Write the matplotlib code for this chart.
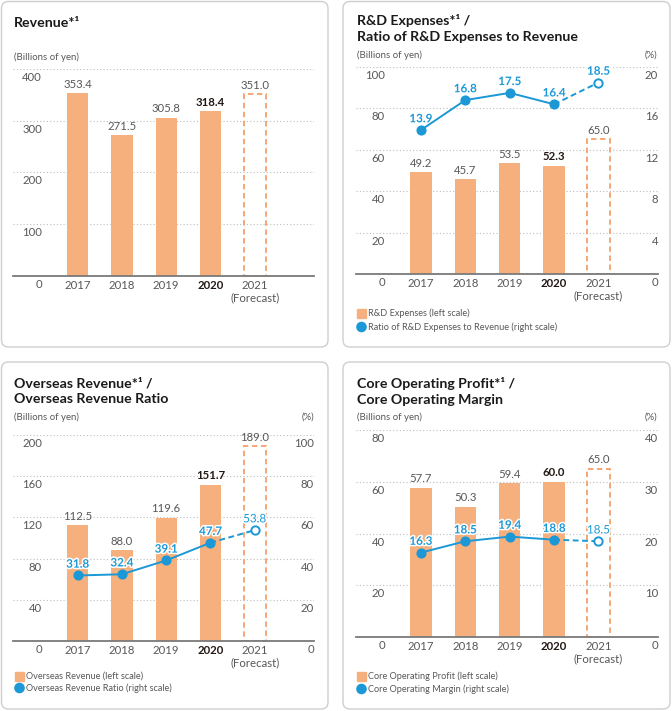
import matplotlib
matplotlib.use('Agg')
import numpy as np
import matplotlib.pyplot as plt
from matplotlib.transforms import Affine2D
from matplotlib.patches import FancyBboxPatch, Rectangle, Circle
import matplotlib.patheffects as pe

plt.rcParams['font.family'] = ['Lato', 'DejaVu Sans']

# ---------------- data ----------------
years = ['2017', '2018', '2019', '2020', '2021\n(Forecast)']
revenue = [353.4, 271.5, 305.8, 318.4, 351.0]
rd_expenses = [49.2, 45.7, 53.5, 52.3, 65.0]
rd_ratio = [13.9, 16.8, 17.5, 16.4, 18.5]
overseas_revenue = [112.5, 88.0, 119.6, 151.7, 189.0]
overseas_ratio = [31.8, 32.4, 39.1, 47.7, 53.8]
core_profit = [57.7, 50.3, 59.4, 60.0, 65.0]
core_margin = [16.3, 18.5, 19.4, 18.8, 18.5]

rev_ticks = [0, 100, 200, 300, 400]
rd_ticks = [0, 20, 40, 60, 80, 100]
rd_ratio_ticks = [0, 4, 8, 12, 16, 20]
ov_ticks = [0, 40, 80, 120, 160, 200]
ov_ratio_ticks = [0, 20, 40, 60, 80, 100]
core_ticks = [0, 20, 40, 60, 80]
core_margin_ticks = [0, 10, 20, 30, 40]

# ---------------- style ----------------
BAR = '#F6B07E'
FC_EDGE = '#F4A06A'
BLUE = '#1B98D5'
TXT = '#595757'
DARK = '#231815'
GRID = '#BDBDBD'
W, H = 672, 711

fig = plt.figure(figsize=(W / 100, H / 100), dpi=100)
PX = Affine2D().scale(1 / W, -1 / H).translate(0, 1) + fig.transFigure
P = 0.72  # points per pixel


def add_ax(l, r, t, b):
    return fig.add_axes([l / W, 1 - b / H, (r - l) / W, (b - t) / H])


def box(x0, y0, x1, y1):
    p = FancyBboxPatch((x0, y0), x1 - x0, y1 - y0,
                       boxstyle='round,pad=0,rounding_size=7',
                       transform=PX, fc='white', ec='#CFCFCF', lw=1.0, zorder=-5)
    fig.add_artist(p)


def panel(l, r, t, b, bars, ticks, line=None, rticks=None, bold_forecast=False):
    ax = add_ax(l, r, t, b)
    ax.patch.set_visible(False)
    x = np.arange(len(years))
    ax.bar(x[:4], bars[:4], width=0.48, color=BAR, zorder=2)
    ax.bar(x[4], bars[4], width=0.5, fill=False, edgecolor=FC_EDGE,
           linestyle=(0, (3, 2)), linewidth=1.3, zorder=2)
    for i, v in enumerate(bars):
        ax.annotate(f'{v:.1f}', (x[i], v), xytext=(0, 2.5), textcoords='offset points',
                    ha='center', va='bottom', fontsize=8.2,
                    color=DARK if i == 3 else TXT,
                    fontweight='bold' if i == 3 else 'normal')
    ax.set_xlim(-1.46, 5.34)
    ax.set_ylim(ticks[0], ticks[-1])
    ax.set_yticks(ticks)
    ax.set_yticklabels([])
    ax.tick_params(axis='y', length=0)
    ax.grid(axis='y', linestyle=(0, (1, 2)), color=GRID, lw=0.8)
    ax.set_axisbelow(True)
    ax.set_xticks(x, years, fontsize=8.2, color=TXT)
    ax.tick_params(axis='x', length=0, pad=2.8)
    lab = ax.get_xticklabels()[3]
    lab.set_fontweight('bold')
    lab.set_color(DARK)
    for s in ['top', 'left', 'right']:
        ax.spines[s].set_visible(False)
    ax.spines['bottom'].set_color('#7A7A7A')
    ax.spines['bottom'].set_linewidth(1.3)
    ax.spines['bottom'].set_zorder(5)
    for v in ticks:
        ax.annotate(str(v), xy=(0, v), xycoords=ax.get_yaxis_transform(),
                    xytext=(29 * P, -8.5 * P), textcoords='offset points',
                    ha='right', va='center', fontsize=8.2, color=TXT)
    if line is not None:
        ax2 = ax.twinx()
        ax2.set_ylim(rticks[0], rticks[-1])
        ax2.set_yticks([])
        for s in ax2.spines.values():
            s.set_visible(False)
        ax2.plot(x[3:5], line[3:5], color=BLUE, lw=1.4, linestyle=(0, (3, 1.8)), zorder=3)
        ax2.plot(x[:4], line[:4], '-o', color=BLUE, lw=1.4, ms=6.3, zorder=4)
        ax2.plot(x[4:5], line[4:5], 'o', mfc='white', mec=BLUE, mew=1.4, ms=6.0, zorder=4)
        for i, v in enumerate(line):
            bold = i < 4 or bold_forecast
            ax2.annotate(f'{v:.1f}', (x[i], v), xytext=(0, 4.2), textcoords='offset points',
                         ha='center', va='bottom', fontsize=8.4, color=BLUE,
                         fontweight='bold' if bold else 'normal',
                         path_effects=[pe.withStroke(linewidth=2.2, foreground='white')])
        for v in rticks:
            ax2.annotate(str(v), xy=(1, v), xycoords=ax2.get_yaxis_transform(),
                         xytext=(0, -8.5 * P), textcoords='offset points',
                         ha='right', va='center', fontsize=8.2, color=TXT)
    return ax


def title(x, ys, lines):
    for y, s in zip(ys, lines):
        fig.text(x, y, s, transform=PX, fontsize=10.2, fontweight='bold',
                 color='#1a1a1a', va='baseline', ha='left')


def small(x, y, s, ha='left'):
    fig.text(x, y, s, transform=PX, fontsize=6.9, color=TXT, va='center', ha=ha)


def legend(x, y1, y2, s1, s2):
    fig.add_artist(Rectangle((x, y1 - 4.5), 9, 9, transform=PX, color=BAR))
    fig.add_artist(Circle((x + 4.5, y2), 4.6, transform=PX, color=BLUE))
    fig.text(x + 11, y1, s1, transform=PX, fontsize=6.6, color=TXT, va='center')
    fig.text(x + 11, y2, s2, transform=PX, fontsize=6.6, color=TXT, va='center')


# panel boxes
box(1.5, 1.5, 328, 347)
box(343, 1.5, 670, 347)
box(1.5, 362, 328, 709)
box(343, 362, 670, 709)

# Panel 1: Revenue
title(14, [27], ['Revenue*¹'])
small(14, 57, '(Billions of yen)')
panel(13, 314, 69, 276, revenue, rev_ticks)

# Panel 2: R&D
title(357, [25, 41], ['R&D Expenses*¹ /', 'Ratio of R&D Expenses to Revenue'])
small(357, 55, '(Billions of yen)')
small(657, 55, '(%)', ha='right')
panel(356, 658, 67, 274, rd_expenses, rd_ticks, rd_ratio, rd_ratio_ticks, bold_forecast=True)
legend(357, 313, 327, 'R&D Expenses (left scale)',
       'Ratio of R&D Expenses to Revenue (right scale)')

# Panel 3: Overseas
title(14, [387.5, 403], ['Overseas Revenue*¹ /', 'Overseas Revenue Ratio'])
small(14, 417, '(Billions of yen)')
small(314, 417, '(%)', ha='right')
panel(13, 314, 435, 641, overseas_revenue, ov_ticks, overseas_ratio, ov_ratio_ticks)
legend(15, 676, 688, 'Overseas Revenue (left scale)', 'Overseas Revenue Ratio (right scale)')

# Panel 4: Core operating
title(357, [388, 404], ['Core Operating Profit*¹ /', 'Core Operating Margin'])
small(357, 417, '(Billions of yen)')
small(657, 417, '(%)', ha='right')
panel(356, 658, 430, 637, core_profit, core_ticks, core_margin, core_margin_ticks)
legend(357, 676, 689, 'Core Operating Profit (left scale)', 'Core Operating Margin (right scale)')

fig.savefig('out.png', dpi=100)
